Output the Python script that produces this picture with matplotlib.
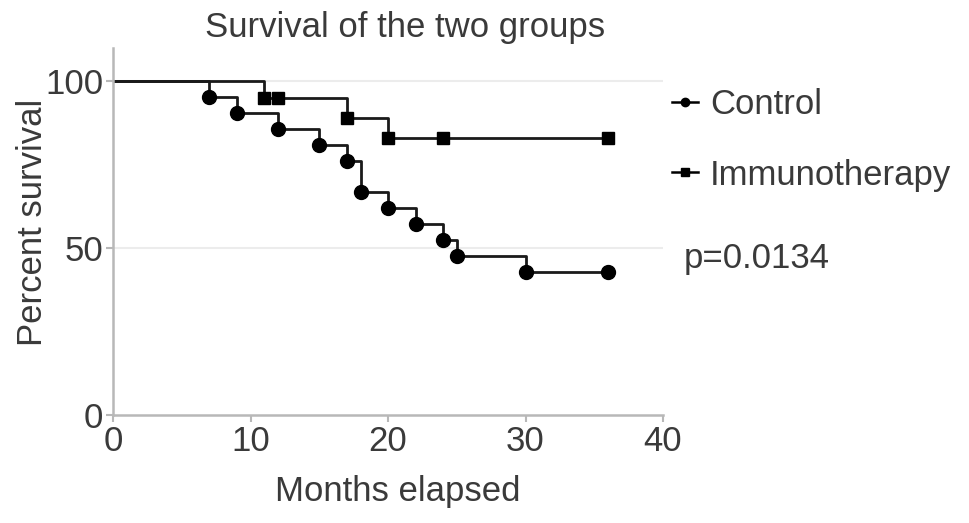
import matplotlib.pyplot as plt
from matplotlib.lines import Line2D

plt.rcParams['font.family'] = ['Liberation Sans', 'DejaVu Sans']

# Kaplan-Meier data
ctrl_months = [0, 7, 9, 12, 15, 17, 18, 20, 22, 24, 25, 30, 36]
ctrl_surv = [100, 95.2, 90.5, 85.7, 81.0, 76.2, 66.7, 61.9, 57.1, 52.4, 47.6, 42.9, 42.9]
immu_months = [0, 11, 12, 17, 20, 24, 36]
immu_surv = [100, 95.0, 95.0, 88.9, 82.9, 82.9, 82.9]
p_text = 'p=0.0134'

txt = '#3a3a3a'
spine = '#b8b8b8'
fs = 25

fig = plt.figure(figsize=(9.69, 5.23), dpi=100)
ax = fig.add_axes([113/969, 1 - 415/523, 550/969, (415-48)/523])

for y in [50, 100]:
    ax.axhline(y, color='#ececec', lw=1.5, zorder=0)

ax.step(ctrl_months, ctrl_surv, where='post', color='#1a1a1a', lw=2, zorder=2)
ax.step(immu_months, immu_surv, where='post', color='#1a1a1a', lw=2, zorder=2)
ax.plot(ctrl_months[1:], ctrl_surv[1:], 'o', color='black', ms=10, zorder=3)
ax.plot(immu_months[1:], immu_surv[1:], 's', color='black', ms=9, zorder=3)

ax.set_xlim(0, 40)
ax.set_ylim(0, 110)
ax.set_xticks([0, 10, 20, 30, 40])
ax.set_yticks([0, 50, 100])
for s in ['top', 'right']:
    ax.spines[s].set_visible(False)
for s in ['left', 'bottom']:
    ax.spines[s].set_color(spine)
    ax.spines[s].set_linewidth(1.8)
ax.tick_params(colors=spine, labelcolor=txt, labelsize=fs, width=1.5, length=5, pad=2)

fig.text(405/969, 1 - 27/523, 'Survival of the two groups', ha='center', va='center',
         fontsize=fs, color=txt)
fig.text(33/969, 1 - 222/523, 'Percent survival', ha='center', va='center',
         rotation=90, fontsize=fs, color=txt)
fig.text(398/969, 1 - 492/523, 'Months elapsed', ha='center', va='center',
         fontsize=fs, color=txt)

handles = [Line2D([], [], color='black', lw=1.8, marker='o', ms=6),
           Line2D([], [], color='black', lw=1.8, marker='s', ms=6)]
leg = fig.legend(handles, ['Control', 'Immunotherapy'], loc='upper left',
                 bbox_to_anchor=(672/969, 1 - 88/523), frameon=False, fontsize=fs,
                 handlelength=0.75, handletextpad=0.35, labelspacing=1.08,
                 borderaxespad=0, borderpad=0)
for t in leg.get_texts():
    t.set_color(txt)
fig.text(684/969, 1 - 258/523, p_text, ha='left', va='center', fontsize=fs, color=txt)

fig.savefig('out.png', dpi=100)
